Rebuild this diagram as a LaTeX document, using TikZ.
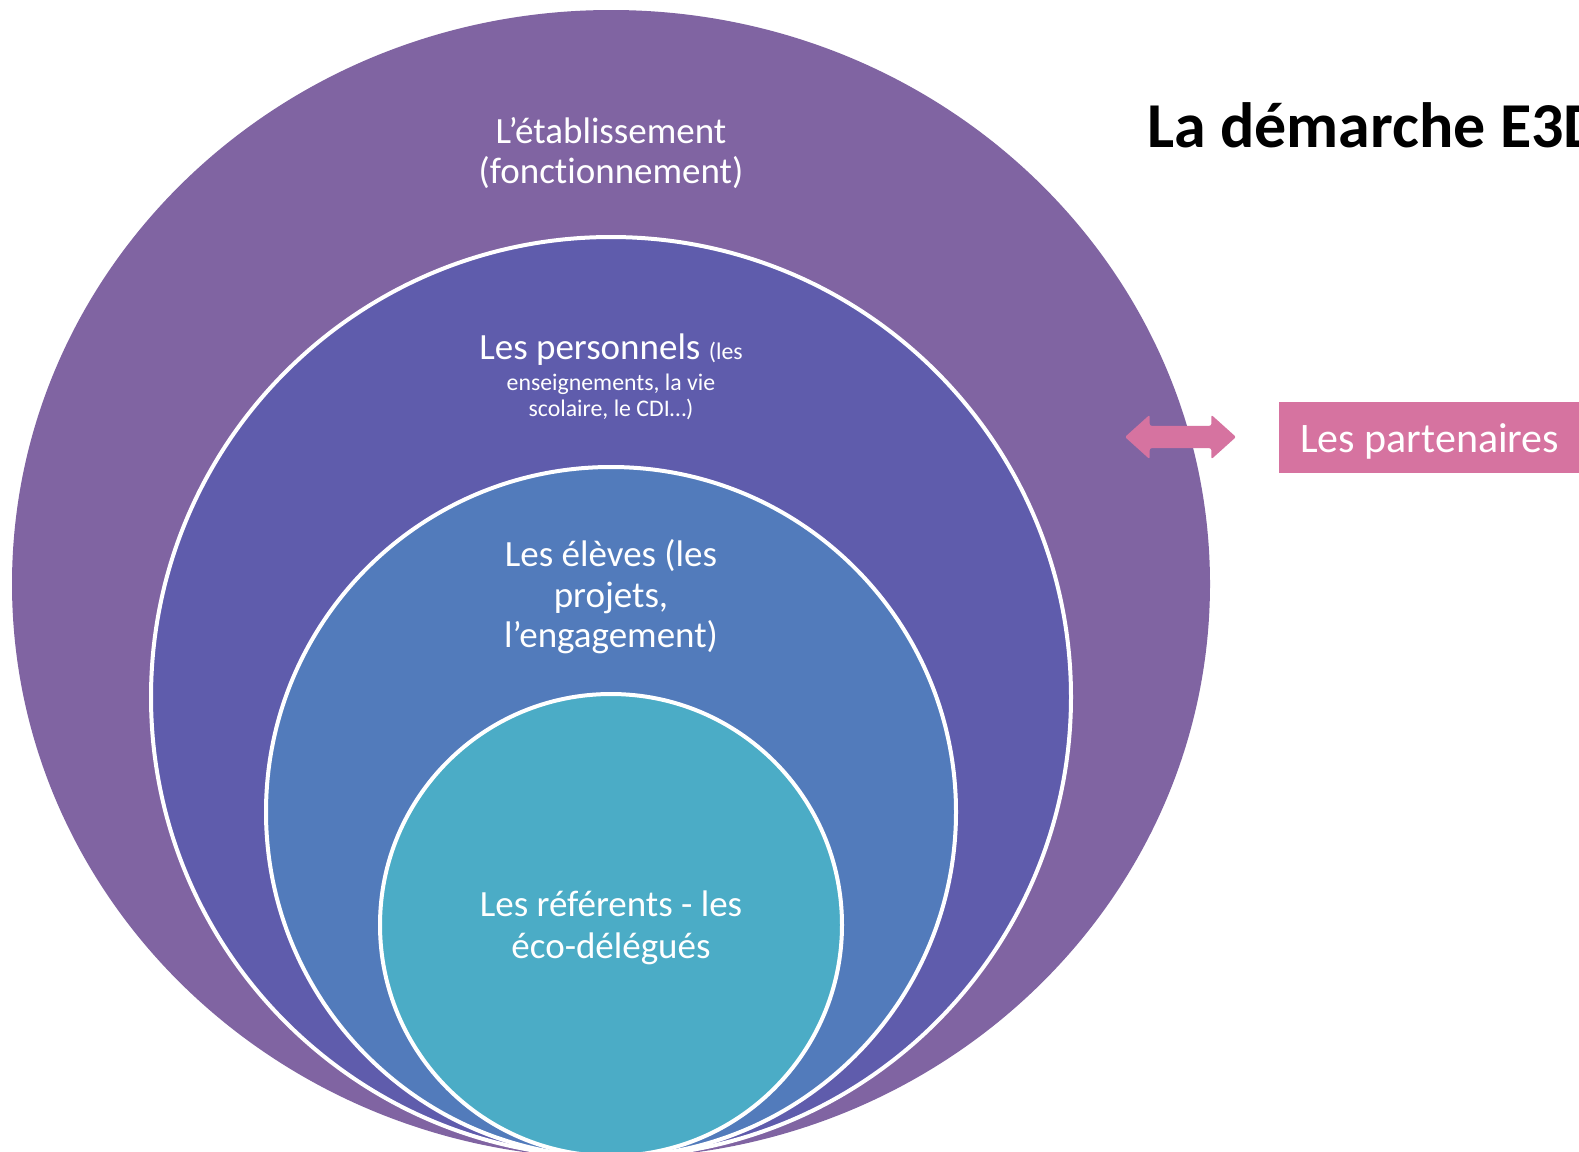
\documentclass[tikz,border=0pt]{standalone}
\usepackage{fontspec}
\setmainfont[Ligatures={NoCommon}]{Carlito}
\usetikzlibrary{shapes.geometric,shapes.arrows}
\definecolor{cOuter}{HTML}{8064A2}
\definecolor{cSecond}{HTML}{5F5CAC}
\definecolor{cThird}{HTML}{527BBB}
\definecolor{cFourth}{HTML}{4BACC6}
\definecolor{cPink}{HTML}{D673A0}
\newcommand{\bigf}{\fontsize{37}{40.5}\selectfont}
\newcommand{\smallf}{\fontsize{23.8}{26}\selectfont}
\begin{document}
\begin{tikzpicture}[x=1pt,y=-1pt,
  ring/.style={ellipse, inner sep=0pt, outer sep=0pt, draw=white, line width=4pt},
  lbl/.style={text=white, font=\bigf, anchor=base, inner sep=0pt},
  slbl/.style={text=white, font=\smallf, anchor=base, inner sep=0pt}]
\useasboundingbox (0,0) rectangle (1579,1151);
\fill[white] (0,0) rectangle (1579,1151);
% rings
\node[ring, draw=none, fill=cOuter, minimum width=1198pt, minimum height=1148pt] (outer) at (611,584) {};
\node[ring, fill=cSecond, minimum width=920pt, minimum height=920pt] (second) at (611,697) {};
\node[ring, fill=cThird, minimum width=690pt, minimum height=690pt] (third) at (611,812) {};
\node[ring, fill=cFourth, minimum width=462pt, minimum height=462pt] (fourth) at (611,925) {};
% labels
\node[lbl] (etab1) at (611,143) {L’établissement};
\node[lbl] (etab2) at (611,183) {(fonctionnement)};
\node[lbl] (pers1) at (611,359) {Les personnels {\smallf(les}};
\node[slbl] (pers2) at (611,390) {enseignements, la vie};
\node[slbl] (pers3) at (611,416) {scolaire, le CDI…)};
\node[lbl] (elev1) at (611,566) {Les élèves (les};
\node[lbl] (elev2) at (611,607) {projets,};
\node[lbl] (elev3) at (611,647) {l’engagement)};
\node[lbl] (ref1) at (611,916) {Les référents - les};
\node[lbl] (ref2) at (611,958) {éco-délégués};
% title
\node[anchor=base west, inner sep=0pt, font=\fontsize{64}{70}\selectfont\bfseries] (title) at (1147,147) {La démarche E3D};
% arrow and partner box
\node[double arrow, fill=cPink, minimum width=44pt, minimum height=111pt,
  double arrow head extend=11pt, double arrow tip angle=84, inner xsep=0pt, inner ysep=11pt,
  rounded corners=2pt] (arrow) at (1180.5,437) {};
\node[fill=cPink, anchor=west, minimum height=71pt, inner xsep=21pt, text height=33pt, text depth=4pt,
  text=white, font=\fontsize{42}{46}\selectfont] (part) at (1279,437.5) {Les partenaires\hspace{40pt}};
\end{tikzpicture}
\end{document}
